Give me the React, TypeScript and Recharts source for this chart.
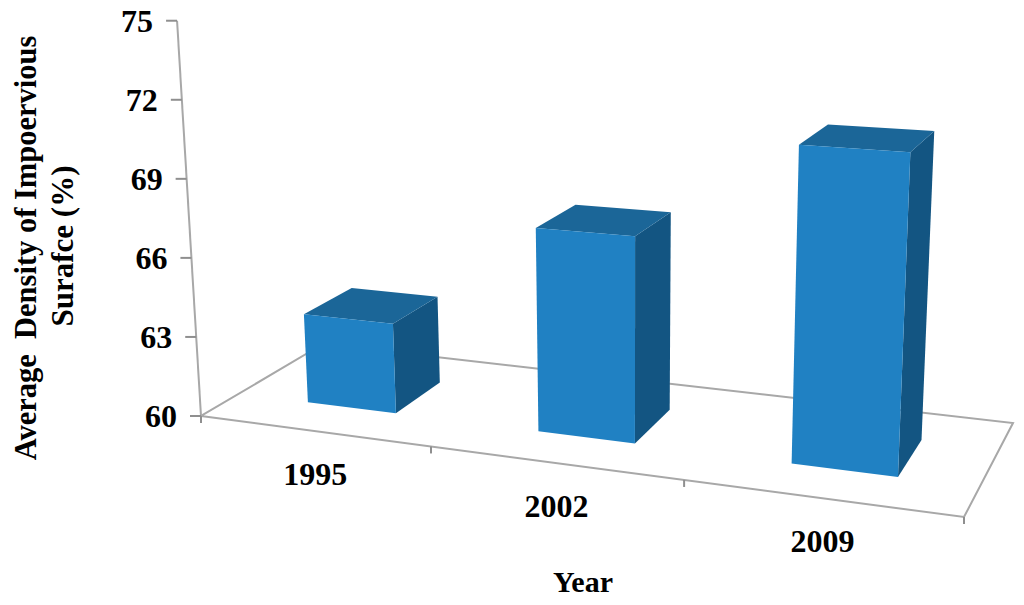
import { BarChart, Bar, XAxis, YAxis } from 'recharts';

const years = ['1995', '2002', '2009'];
const density = [63.4, 67.5, 71.2];
const yTicks = [60, 63, 66, 69, 72, 75];

const data = years.map((year, i) => ({ year, density: density[i] }));

const WIDTH = 1024;
const HEIGHT = 605;
// flat plot rectangle handed to recharts, its scales get projected below
const LEFT = 200;
const TOP = 20;
const PLOT_W = 764;
const PLOT_H = 396;

// floor quad: front-left, front-right, back-right, back-left
const FLOOR = [
  [201, 416],
  [964, 517],
  [1013, 423],
  [323, 344],
];
const VANISH = [630, 7500];
const DEPTH_FRONT = 0.29;
const DEPTH_BACK = 0.695;
const BAR_SHIFT = 0.0045;

const [x0, y0] = FLOOR[0];
const [x1, y1] = FLOOR[1];
const [x2, y2] = FLOOR[2];
const [x3, y3] = FLOOR[3];
const sx = x0 - x1 + x2 - x3;
const sy = y0 - y1 + y2 - y3;
const dd = (x1 - x2) * (y3 - y2) - (x3 - x2) * (y1 - y2);
const g = (sx * (y3 - y2) - (x3 - x2) * sy) / dd;
const h = ((x1 - x2) * sy - sx * (y1 - y2)) / dd;

function floorPoint(u: number, w: number) {
  const den = g * u + h * w + 1;
  const x = ((x1 - x0 + g * x1) * u + (x3 - x0 + h * x3) * w + x0) / den;
  const y = ((y1 - y0 + g * y1) * u + (y3 - y0 + h * y3) * w + y0) / den;
  return { x, y, den };
}

// raise a floor point by a plot-pixel height, scaled for perspective
function lift(u: number, w: number, px: number) {
  const p = floorPoint(u, w);
  const dx = p.x - VANISH[0];
  const dy = p.y - VANISH[1];
  const len = Math.hypot(dx, dy);
  const s = px / p.den;
  return { x: p.x + (dx / len) * s, y: p.y + (dy / len) * s };
}

const toU = (x: number) => (x - LEFT) / PLOT_W;
const poly = (pts: { x: number; y: number }[]) => pts.map((p) => `${p.x},${p.y}`).join(' ');

function Box3D(props: any) {
  const { x, width, height } = props;
  const u0 = toU(x) + BAR_SHIFT;
  const u1 = toU(x + width) + BAR_SHIFT;
  const fl = lift(u0, DEPTH_FRONT, 0);
  const fr = lift(u1, DEPTH_FRONT, 0);
  const br = lift(u1, DEPTH_BACK, 0);
  const tfl = lift(u0, DEPTH_FRONT, height);
  const tfr = lift(u1, DEPTH_FRONT, height);
  const tbr = lift(u1, DEPTH_BACK, height);
  const tbl = lift(u0, DEPTH_BACK, height);
  return (
    <g>
      <polygon points={poly([fr, br, tbr, tfr])} fill="#135582" />
      <polygon points={poly([tfl, tfr, tbr, tbl])} fill="#1b6698" />
      <polygon points={poly([fl, fr, tfr, tfl])} fill="#2081c3" />
    </g>
  );
}

function ValueTick(props: any) {
  const { y, payload } = props;
  const p = lift(0, 0, TOP + PLOT_H - y);
  return (
    <g>
      <line x1={p.x - 11} y1={p.y} x2={p.x} y2={p.y} stroke="#8f8f8f" strokeWidth={2} />
      <text x={p.x - 24} y={p.y + 11} textAnchor="end" fontFamily="Liberation Serif" fontWeight="bold" fontSize={32} fill="#000">
        {payload.value}
      </text>
    </g>
  );
}

function YearTick(props: any) {
  const { x, payload } = props;
  const p = floorPoint(toU(x), 0);
  return (
    <text x={p.x + 2} y={p.y + 54} textAnchor="middle" fontFamily="Liberation Serif" fontWeight="bold" fontSize={32} fill="#000">
      {payload.value}
    </text>
  );
}

function Floor() {
  const edges = [0, 1 / 3, 2 / 3, 1].map((u) => floorPoint(u, 0));
  return (
    <g>
      <polygon points={FLOOR.map((p) => p.join(',')).join(' ')} fill="none" stroke="#a8a8a8" strokeWidth={2} />
      <line x1={x0} y1={y0} x2={lift(0, 0, PLOT_H).x} y2={lift(0, 0, PLOT_H).y} stroke="#a8a8a8" strokeWidth={2} />
      {edges.map((p, i) => (
        <line key={i} x1={p.x} y1={p.y} x2={p.x} y2={p.y + 7} stroke="#8f8f8f" strokeWidth={2} />
      ))}
    </g>
  );
}

export default function App() {
  return (
    <div style={{ position: 'absolute', left: 0, top: 0, background: '#fff' }}>
      <BarChart
        width={WIDTH}
        height={HEIGHT}
        data={data}
        margin={{ top: TOP, right: WIDTH - LEFT - PLOT_W, bottom: HEIGHT - TOP - PLOT_H - 1, left: LEFT - 1 }}
        barCategoryGap="30.3%"
      >
        <Floor />
        <XAxis dataKey="year" height={1} axisLine={false} tickLine={false} interval={0} tick={YearTick} />
        <YAxis width={1} domain={[60, 75]} ticks={yTicks} axisLine={false} tickLine={false} interval={0} tick={ValueTick} />
        <Bar dataKey="density" isAnimationActive={false} shape={Box3D} />
        <text
          transform="translate(36,248) rotate(-90)"
          textAnchor="middle"
          fontFamily="Liberation Serif"
          fontWeight="bold"
          fontSize={30.5}
          fill="#000"
          style={{ whiteSpace: 'pre' }}
        >
          Average  Density of Impoervious
        </text>
        <text
          transform="translate(73,246) rotate(-90)"
          textAnchor="middle"
          fontFamily="Liberation Serif"
          fontWeight="bold"
          fontSize={31}
          fill="#000"
        >
          Surafce (%)
        </text>
        <text x={583} y={592} textAnchor="middle" fontFamily="Liberation Serif" fontWeight="bold" fontSize={30} fill="#000">
          Year
        </text>
      </BarChart>
    </div>
  );
}
